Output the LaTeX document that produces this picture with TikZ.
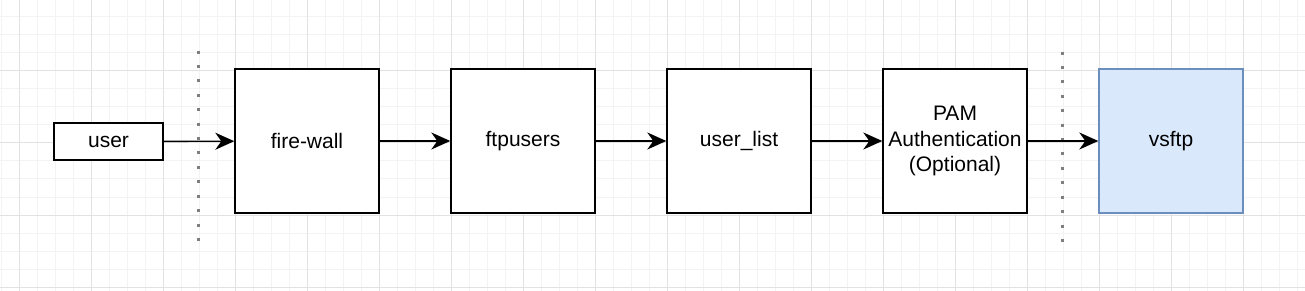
\documentclass[tikz,border=0pt]{standalone}
\usepackage{fontspec}
\setmainfont{Liberation Sans}
\usetikzlibrary{arrows.meta}
\definecolor{gridmajor}{HTML}{E2E2E2}
\definecolor{gridminor}{HTML}{F3F3F3}
\definecolor{vsfill}{HTML}{DAE8FC}
\definecolor{vsline}{HTML}{6C8EBF}
\definecolor{dotgray}{HTML}{7F7F7F}
\begin{document}
\begin{tikzpicture}[x=1pt,y=-1pt,
    stage/.style={draw, line width=1.4pt, minimum width=144pt, minimum height=144pt,
      inner sep=0pt, align=center, font=\fontsize{21}{25.5}\selectfont},
    smallbox/.style={stage, minimum width=109pt, minimum height=37pt},
    flow/.style={line width=1.4pt, arrows={-Stealth[length=19pt,width=17pt,inset=6pt]}},
    fence/.style={dotgray, line width=3pt, dash pattern=on 3pt off 11.4pt}]
    \useasboundingbox (0,0) rectangle (1305,291);

    %grid
    \foreach \x in {1.3,19.3,...,1305} \draw[gridminor] (\x,0) -- (\x,291);
    \foreach \y in {16.7,34.7,...,291} \draw[gridminor] (0,\y) -- (1305,\y);
    \foreach \x in {19.3,91.3,...,1305} \draw[gridmajor] (\x,0) -- (\x,291);
    \foreach \y in {70.7,142.7,...,291} \draw[gridmajor] (0,\y) -- (1305,\y);

    %fences (dotted)
    \draw[fence] (198.5,50.7) -- (198.5,241.5);
    \draw[fence] (1062.5,51.7) -- (1062.5,242.5);

    %stages
    \node[smallbox, fill=white] (user) at (108.5,141.5) {user};
    \node[stage, fill=white] (firewall) at (307,141) {fire-wall};
    \node[stage, fill=white] (ftpusers) at (523,141) {ftpusers};
    \node[stage, fill=white] (userlist) at (739,141) {user\_list};
    \node[stage, fill=white] (pam) at (955,141) {PAM\\Authentication\\(Optional)};
    \node[stage, fill=vsfill, draw=vsline] (vsftp) at (1171,141) {vsftp};

    %arrows
    \draw[flow] (user) -- (firewall);
    \draw[flow] (firewall) -- (ftpusers);
    \draw[flow] (ftpusers) -- (userlist);
    \draw[flow] (userlist) -- (pam);
    \draw[flow] (pam) -- (vsftp);
\end{tikzpicture}
\end{document}
